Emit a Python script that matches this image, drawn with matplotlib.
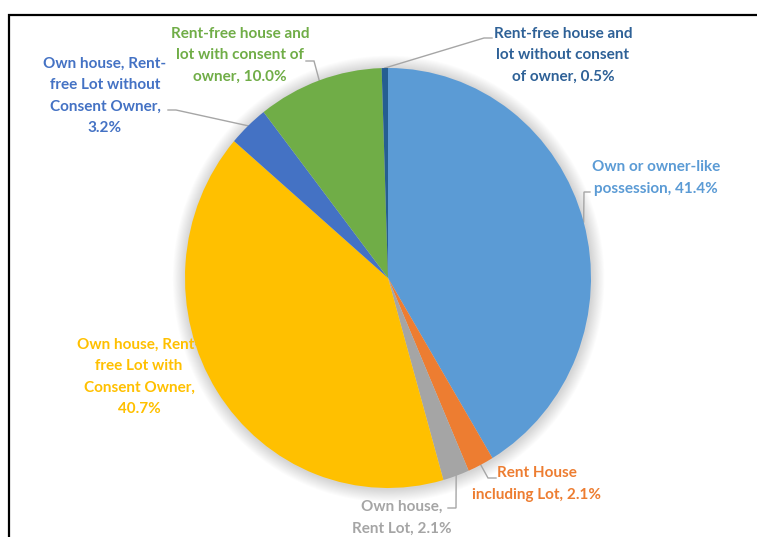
import numpy as np
import matplotlib
matplotlib.use("Agg")
import matplotlib.pyplot as plt
from matplotlib.patches import Ellipse

# Housing tenure shares (percent), clockwise from 12 o'clock
categories = [
    "Own or owner-like\npossession",
    "Rent House\nincluding Lot",
    "Own house,\nRent Lot",
    "Own house, Rent-\nfree Lot with\nConsent Owner",
    "Own house, Rent-\nfree Lot without\nConsent Owner",
    "Rent-free house and\nlot with consent of\nowner",
    "Rent-free house and\nlot without consent\nof owner",
]
shares = [41.4, 2.1, 2.1, 40.7, 3.2, 10.0, 0.5]
slice_colors = ["#5B9BD5", "#ED7D31", "#A5A5A5", "#FFC000", "#4472C4", "#70AD47", "#255E91"]
text_colors = ["#5B9BD5", "#ED7D31", "#A5A5A5", "#FFC000", "#4472C4", "#70AD47", "#2E6197"]
value_breaks = [", ", ", ", ", ", ",\n", ",\n", ", ", ", "]

W, H = 757, 537
CX, CY = 388, 278      # pie centre in pixels
RX, RY = 203, 210      # horizontal / vertical radius in pixels

# label block centre (pixels) and the elbow of each leader line
label_pos = [(656, 178), (537, 484), (402, 518), (139, 377), (105, 96), (240, 55), (563, 55)]
leader_elbow = [
    [(590, 192), (584, 192)],
    [(496, 478), (488, 478)],
    [(448, 508), (456, 508)],
    None,
    [(168, 110), (176, 110)],
    [(306, 61), (314, 61)],
    [(492, 38), (484, 38)],
]


def to_data(x, y):
    return (x - CX) / RX, (CY - y) / RY


fig = plt.figure(figsize=(W / 100, H / 100), dpi=100)
ax = fig.add_axes([0, 0, 1, 1])
ax.set_axis_off()

# soft glow behind the pie
for k in range(14):
    s = 1.0 + 0.0045 * (k + 1)
    ax.add_patch(Ellipse((0.003, -0.004), 2 * s, 2 * s, facecolor="black",
                         alpha=0.012, linewidth=0, zorder=1))

wedges, _ = ax.pie(shares, colors=slice_colors, startangle=90, counterclock=False,
                   radius=1.0, center=(0, 0), frame=True,
                   wedgeprops=dict(linewidth=0))
for w in wedges:
    w.set_zorder(3)

ax.set_aspect("auto")
ax.set_xlim((0 - CX) / RX, (W - CX) / RX)
ax.set_ylim((CY - H) / RY, CY / RY)

# labels and leader lines
cum = np.cumsum([0] + shares)
for i, (cat, val) in enumerate(zip(categories, shares)):
    mid = 90 - 360 * (cum[i] + val / 2) / 100
    ax_pt = (np.cos(np.radians(mid)), np.sin(np.radians(mid)))
    lx, ly = to_data(*label_pos[i])
    ax.text(lx, ly, f"{cat}{value_breaks[i]}{val:.1f}%", ha="center", va="center",
            multialignment="center", color=text_colors[i], fontsize=11.0,
            fontweight="bold", family="Lato", linespacing=1.68, zorder=2)
    if leader_elbow[i] is not None:
        pts = [to_data(*p) for p in leader_elbow[i]] + [ax_pt]
        xs, ys = zip(*pts)
        ax.plot(xs, ys, color="#A6A6A6", linewidth=1.0, zorder=2,
                solid_joinstyle="miter")

# frame border
fx0, fy0 = to_data(9, 537)
fx1, fy1 = to_data(9, 15)
fx2, _ = to_data(757, 15)
ax.plot([fx0, fx1, fx2], [fy0, fy1, fy1], color="black", linewidth=1.6,
        clip_on=False, zorder=5, solid_joinstyle="miter")

fig.savefig("out.png", dpi=100, facecolor="white")
